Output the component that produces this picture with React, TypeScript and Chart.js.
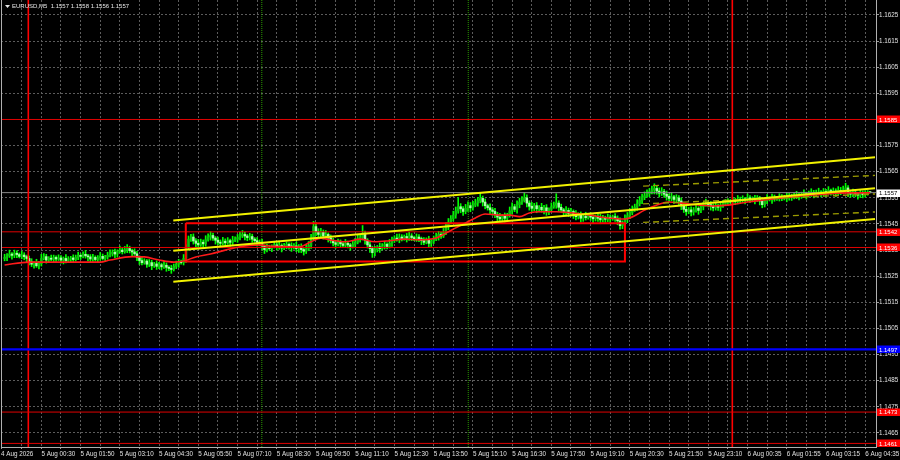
import React, { useEffect, useRef } from 'react';
import { Chart, registerables } from 'chart.js';

Chart.register(...registerables);

// price = 1.1 + pts / 100000
const BASE = 1.1;
const PT = 100000;

const titleText = 'EURUSD,M5  1.1557 1.1558 1.1556 1.1557';
const firstDateLabel = '4 Aug 2026';
const timeLabels = [
  '5 Aug 00:30', '5 Aug 01:50', '5 Aug 03:10', '5 Aug 04:30', '5 Aug 05:50', '5 Aug 07:10',
  '5 Aug 08:30', '5 Aug 09:50', '5 Aug 11:10', '5 Aug 12:30', '5 Aug 13:50', '5 Aug 15:10',
  '5 Aug 16:30', '5 Aug 17:50', '5 Aug 19:10', '5 Aug 20:30', '5 Aug 21:50', '5 Aug 23:10',
  '6 Aug 00:35', '6 Aug 01:55', '6 Aug 03:15', '6 Aug 04:35',
];
const priceTicks = [
  1.1465, 1.1475, 1.1485, 1.1495, 1.1505, 1.1515, 1.1525, 1.1535, 1.1545,
  1.1555, 1.1565, 1.1575, 1.1585, 1.1595, 1.1605, 1.1615, 1.1625,
];

const firstOpen = 5318;
const closePts = [
  5322,5328,5335,5330,5338,5333,5326,5331,5325,5318,
  5305,5296,5300,5290,5298,5318,5325,5312,5319,5315,
  5322,5316,5320,5312,5318,5310,5316,5320,5314,5322,
  5330,5326,5334,5328,5324,5316,5322,5314,5320,5326,
  5318,5324,5330,5336,5342,5335,5345,5350,5344,5352,
  5356,5348,5343,5336,5322,5310,5302,5308,5296,5302,
  5290,5297,5288,5294,5286,5292,5284,5280,5276,5288,
  5296,5306,5302,5318,5362,5392,5400,5385,5376,5370,
  5380,5374,5390,5400,5406,5396,5388,5380,5376,5384,
  5378,5386,5380,5388,5392,5398,5404,5410,5404,5398,
  5402,5392,5386,5380,5376,5364,5352,5360,5356,5364,
  5370,5362,5368,5358,5364,5372,5366,5360,5366,5356,
  5362,5352,5346,5354,5368,5398,5440,5420,5410,5418,
  5404,5410,5396,5386,5378,5372,5380,5374,5368,5376,
  5370,5364,5372,5380,5392,5398,5414,5388,5370,5356,
  5340,5352,5362,5356,5366,5372,5364,5376,5388,5396,
  5390,5400,5394,5402,5396,5404,5398,5392,5400,5394,
  5386,5380,5388,5376,5384,5392,5400,5410,5404,5418,
  5440,5456,5470,5484,5500,5516,5508,5498,5510,5520,
  5512,5522,5530,5540,5548,5534,5520,5512,5504,5498,
  5486,5476,5470,5480,5472,5482,5500,5516,5506,5524,
  5534,5540,5550,5530,5518,5510,5520,5508,5514,5504,
  5512,5498,5506,5516,5522,5530,5514,5504,5496,5502,
  5490,5498,5486,5478,5484,5472,5480,5474,5482,5476,
  5470,5478,5472,5466,5474,5468,5476,5470,5478,5472,
  5462,5444,5456,5470,5482,5494,5504,5514,5528,5540,
  5552,5558,5566,5574,5580,5586,5576,5568,5574,5564,
  5556,5548,5554,5544,5550,5538,5520,5506,5498,5504,
  5496,5504,5510,5502,5516,5524,5530,5524,5518,5512,
  5520,5514,5522,5526,5532,5538,5534,5540,5536,5544,
  5540,5546,5542,5550,5544,5548,5542,5550,5538,5524,
  5540,5548,5544,5552,5546,5550,5554,5548,5554,5550,
  5558,5552,5556,5560,5554,5560,5566,5560,5564,5570,
  5562,5568,5572,5566,5574,5570,5578,5572,5576,5570,
  5578,5574,5580,5588,5570,5564,5572,5566,5560,5568,
  5562,5566,5572,5570,
];
const upWick = [
  12,9,15,6,12,9,6,15,9,6, 9,12,6,15,9,16,12,9,6,12, 9,6,12,9,6,15,9,6,12,9, 12,6,9,15,6,9,12,6,9,15,
  9,6,12,15,9,12,6,15,9,12, 15,9,6,12,9,6,15,9,6,12, 9,6,12,9,6,15,9,6,12,9, 12,9,6,15,8,12,10,12,9,15,
  12,9,15,12,15,9,6,12,9,15, 9,12,6,15,9,12,15,15,9,6, 12,9,6,12,9,15,6,12,9,6, 12,9,15,6,12,9,6,12,9,15,
  9,12,6,15,15,12,20,15,12,15, 9,15,6,12,9,6,12,9,6,15, 9,6,12,15,15,12,30,9,6,12, 9,12,6,15,9,12,6,15,12,9,
  15,12,9,6,12,15,9,6,12,9, 6,12,9,15,6,12,15,12,9,15, 15,15,12,15,15,35,12,9,15,15, 12,15,15,12,22,9,12,6,15,9,
  12,9,15,6,12,9,15,15,9,15, 15,15,20,12,9,15,9,12,6,15, 9,12,6,15,12,36,9,12,6,15, 9,12,6,15,9,12,6,15,9,12,
  9,6,12,15,9,6,12,9,6,12, 9,12,6,15,12,15,15,12,15,15, 12,15,15,12,15,18,9,12,15,9, 12,9,15,6,12,9,12,6,15,9,
  12,9,15,6,12,9,15,6,12,9, 12,6,9,15,12,9,6,12,9,15, 9,12,6,15,9,6,12,9,6,12, 9,15,6,12,9,6,12,9,6,15,
  9,6,12,15,9,12,15,6,12,15, 9,12,15,6,12,9,15,6,12,9, 15,12,15,18,9,6,12,9,6,12, 9,12,6,1,
];
const loWick = [
  9,12,6,15,9,12,6,9,12,15, 12,9,15,6,12,9,6,12,9,6, 12,9,6,12,15,9,6,12,9,6, 9,12,6,9,15,12,9,6,12,9,
  6,12,9,6,9,15,12,6,9,6, 12,9,15,6,12,15,9,6,12,9, 15,6,12,9,12,6,15,9,15,6, 9,12,6,9,15,12,9,12,15,9,
  6,12,9,6,12,9,15,9,12,6, 12,6,15,9,6,12,9,6,15,12, 9,12,6,15,9,12,15,9,6,12, 6,12,9,15,6,9,12,15,6,12,
  15,12,15,9,6,12,9,15,12,9, 12,6,15,9,12,15,6,12,9,6, 12,15,6,9,6,12,9,15,12,15, 18,12,9,15,6,12,9,6,12,9,
  6,12,9,6,15,9,12,6,9,12, 15,9,6,15,12,9,6,12,9,6, 9,12,6,9,12,9,15,15,9,12, 15,9,6,12,9,15,12,9,15,15,
  12,15,9,12,15,9,6,12,9,15, 12,9,6,15,15,12,9,15,12,9, 15,15,12,9,6,12,15,9,12,15, 12,9,15,12,9,15,12,9,6,12,
  15,9,12,15,9,12,9,15,6,12, 15,14,12,9,15,12,9,6,12,9, 12,9,6,12,9,15,12,15,9,12, 15,12,9,15,12,15,15,12,15,9,
  15,12,9,15,9,12,6,9,15,12, 9,12,15,9,6,12,9,6,12,9, 12,9,15,6,12,9,15,6,15,12, 9,12,6,15,9,6,12,9,6,15,
  9,12,6,9,12,6,9,15,6,9, 12,9,6,12,9,15,6,12,9,15, 9,12,6,9,15,12,9,12,15,9, 12,9,6,1,
];

// red moving average, sampled at bar indices
const maIdx = [0,10,22,39,43,52,57,63,69,73,78,84,90,96,104,108,116,120,125,129,133,139,145,151,157,163,169,176,180,184,188,192,196,202,206,210,214,218,225,231,239,243,253,262,271,276,283,289,296,303,316,330,344,353];
const maPts = [5293,5304,5304,5304,5312,5325,5324,5312,5304,5308,5324,5335,5350,5363,5370,5366,5363,5362,5382,5396,5389,5382,5392,5382,5386,5392,5389,5396,5415,5435,5454,5473,5488,5484,5484,5478,5492,5497,5497,5493,5484,5477,5469,5507,5534,5530,5523,5519,5523,5534,5549,5561,5569,5569];

// trend channel (bar index, pts)
const chanIdx = [68.8, 355.0];
const chanUpperPts = [5463, 5705];
const chanMidPts = [5348, 5587];
const chanLowerPts = [5229, 5469];
const dashIdx = [260.4, 355.0];
const dashUpperPts = [5595, 5636];
const dashMidPts = [5527, 5565];
const dashLowerPts = [5456, 5496];
const boxIdx = [73.9, 253.0];
const boxPts = [5453, 5306];

const redLevels = [1.1585, 1.1542, 1.1536, 1.1473, 1.1461];
const blueLevels = [1.1497];
const bidPrice = 1.1557;
const redVLines = [9.67, 296.8];
const greenVLines = [104.9, 189.1];

const XMIN = -1.47;
const XMAX = 355.4;
const YMIN = 1.145963;
const YMAX = 1.163074;

const FONT = '"Liberation Sans", Arial, sans-serif';
const GRID = '#5c5c5c';
const WICK = '#00ff00';
const BULL = '#10c010';
const BEAR = '#a8ffa8';

const p = (v: number) => BASE + v / PT;

export default function App() {
  const ref = useRef<HTMLCanvasElement | null>(null);

  useEffect(() => {
    document.body.style.margin = '0';
    document.body.style.background = '#000';
    const canvas = ref.current;
    if (!canvas) return;

    const opens = closePts.map((c, i) => (i === 0 ? firstOpen : closePts[i - 1]));
    const wickData = closePts.map((c, i) => {
      const o = opens[i];
      return { x: i, y: [p(Math.min(o, c) - loWick[i]), p(Math.max(o, c) + upWick[i])] };
    });
    const bodyData = closePts.map((c, i) => ({ x: i, y: [p(opens[i]), p(c)] }));
    const bodyColors = closePts.map((c, i) => (c >= opens[i] ? BULL : BEAR));

    const seg = (idx: number[], pts: number[]) => idx.map((x, k) => ({ x, y: p(pts[k]) }));
    const lineDs = (data: any[], color: string, width: number, dash: number[] = [], order = 1) => ({
      type: 'line' as const,
      data,
      borderColor: color,
      borderWidth: width,
      borderDash: dash,
      pointRadius: 0,
      fill: false,
      tension: 0,
      order,
    });

    const labelAt = new Map<number, string>();
    labelAt.set(XMIN, firstDateLabel);
    timeLabels.forEach((t, k) => labelAt.set(15 + 16 * k, t));

    const datasets: any[] = [
      { type: 'bar', data: wickData, backgroundColor: WICK, barThickness: 1, grouped: false, order: 20, borderWidth: 0 },
      { type: 'bar', data: bodyData, backgroundColor: bodyColors, barThickness: 1.8, grouped: false, order: 19, borderWidth: 0, minBarLength: 1 },
    ];
    redLevels.forEach((lv) => datasets.push(lineDs([{ x: XMIN, y: lv }, { x: XMAX, y: lv }], '#e00000', 1, [], 5)));
    blueLevels.forEach((lv) => datasets.push(lineDs([{ x: XMIN, y: lv }, { x: XMAX, y: lv }], '#0000ff', 2.2, [], 5)));
    datasets.push(lineDs([{ x: XMIN, y: bidPrice }, { x: XMAX, y: bidPrice }], '#8a8a8a', 1, [], 6));
    redVLines.forEach((ix) => datasets.push(lineDs([{ x: ix, y: YMIN }, { x: ix, y: YMAX }], '#ff0000', 1.6, [], 5)));
    greenVLines.forEach((ix) => datasets.push(lineDs([{ x: ix, y: YMIN }, { x: ix, y: YMAX }], '#2a9a00', 1, [1, 1], 5)));
    datasets.push(lineDs(
      [
        { x: boxIdx[0], y: p(boxPts[0]) }, { x: boxIdx[1], y: p(boxPts[0]) },
        { x: boxIdx[1], y: p(boxPts[1]) }, { x: boxIdx[0], y: p(boxPts[1]) },
        { x: boxIdx[0], y: p(boxPts[0]) },
      ], '#ff0000', 2, [], 3));
    datasets.push({
      ...lineDs(seg(maIdx, maPts), '#ff1a1a', 1.6, [], 2),
      cubicInterpolationMode: 'monotone',
    });
    datasets.push(lineDs(seg(dashIdx, dashUpperPts), '#9a9a00', 1.4, [6, 4], 1));
    datasets.push(lineDs(seg(dashIdx, dashMidPts), '#9a9a00', 1.4, [6, 4], 1));
    datasets.push(lineDs(seg(dashIdx, dashLowerPts), '#9a9a00', 1.4, [6, 4], 1));
    datasets.push(lineDs(seg(chanIdx, chanUpperPts), '#f2f200', 2, [], 0));
    datasets.push(lineDs(seg(chanIdx, chanMidPts), '#f2f200', 2, [], 0));
    datasets.push(lineDs(seg(chanIdx, chanLowerPts), '#f2f200', 2, [], 0));

    const overlay = {
      id: 'mtOverlay',
      afterDraw(chart: any) {
        const { ctx, chartArea, scales } = chart;
        const ys = scales.y;
        ctx.save();
        ctx.strokeStyle = '#b0b0b0';
        ctx.lineWidth = 1;
        ctx.beginPath();
        ctx.moveTo(chartArea.left + 0.5, chartArea.top);
        ctx.lineTo(chartArea.left + 0.5, chartArea.bottom);
        ctx.stroke();
        ctx.fillStyle = '#e6e6e6';
        ctx.beginPath();
        ctx.moveTo(5, 5);
        ctx.lineTo(10, 5);
        ctx.lineTo(7.5, 8);
        ctx.closePath();
        ctx.fill();
        ctx.font = `6px ${FONT}`;
        ctx.textBaseline = 'middle';
        ctx.textAlign = 'left';
        ctx.fillText(titleText, 12, 6.5);
        const tag = (v: number, bg: string, fg: string) => {
          const y = ys.getPixelForValue(v);
          ctx.fillStyle = bg;
          ctx.fillRect(chartArea.right + 1, Math.round(y) - 3.5, 23, 7.5);
          ctx.fillStyle = fg;
          ctx.font = `6px ${FONT}`;
          ctx.textBaseline = 'middle';
          ctx.fillText(v.toFixed(4), chartArea.right + 3, y + 0.5);
        };
        redLevels.forEach((lv) => tag(lv, '#ff0000', '#ffffff'));
        blueLevels.forEach((lv) => tag(lv, '#0000ff', '#ffffff'));
        tag(bidPrice, '#ffffff', '#000000');
        ctx.restore();
      },
    };

    const chart = new Chart(canvas, {
      type: 'bar',
      data: { datasets },
      options: {
        animation: false,
        responsive: false,
        maintainAspectRatio: false,
        events: [],
        layout: { padding: { left: 1, right: 0, top: 0, bottom: 0 } },
        plugins: { legend: { display: false }, tooltip: { enabled: false }, title: { display: false } },
        scales: {
          x: {
            type: 'linear',
            min: XMIN,
            max: XMAX,
            offset: false,
            grid: {
              offset: false,
              color: (c: any) => (c.tick && c.tick.value === XMIN ? 'rgba(0,0,0,0)' : GRID),
              lineWidth: 1,
              drawTicks: true,
              tickLength: 2,
              tickColor: '#9a9a9a',
            },
            border: { display: true, color: '#b0b0b0', dash: [2, 2] },
            ticks: {
              autoSkip: false,
              maxRotation: 0,
              minRotation: 0,
              align: 'start',
              padding: 1,
              color: '#e0e0e0',
              font: { size: 6.3, family: FONT },
              callback: (v: any) => labelAt.get(Number(v)) ?? '',
            },
            afterBuildTicks: (s: any) => {
              const t = [{ value: XMIN }];
              for (let v = 7; v <= XMAX; v += 8) t.push({ value: v });
              s.ticks = t;
            },
            afterFit: (s: any) => {
              s.height = 13;
              s.paddingLeft = 0;
              s.paddingRight = 0;
            },
          },
          y: {
            type: 'linear',
            position: 'right',
            min: YMIN,
            max: YMAX,
            beginAtZero: false,
            grid: { color: GRID, lineWidth: 1, drawTicks: true, tickLength: 3, tickColor: '#9a9a9a' },
            border: { display: true, color: '#b0b0b0', dash: [2, 2] },
            ticks: {
              padding: 0,
              color: '#e0e0e0',
              font: { size: 6.3, family: FONT },
              callback: (v: any) => Number(v).toFixed(4),
            },
            afterBuildTicks: (s: any) => {
              s.ticks = priceTicks.map((v) => ({ value: v }));
            },
            afterFit: (s: any) => {
              s.width = 24;
              s.paddingTop = 0;
              s.paddingBottom = 0;
            },
          },
        },
      },
      plugins: [overlay],
    } as any);

    return () => chart.destroy();
  }, []);

  return (
    <div style={{ width: 900, height: 460, background: '#000', position: 'relative' }}>
      <canvas ref={ref} width={900} height={460} style={{ display: 'block', width: 900, height: 460 }} />
    </div>
  );
}
